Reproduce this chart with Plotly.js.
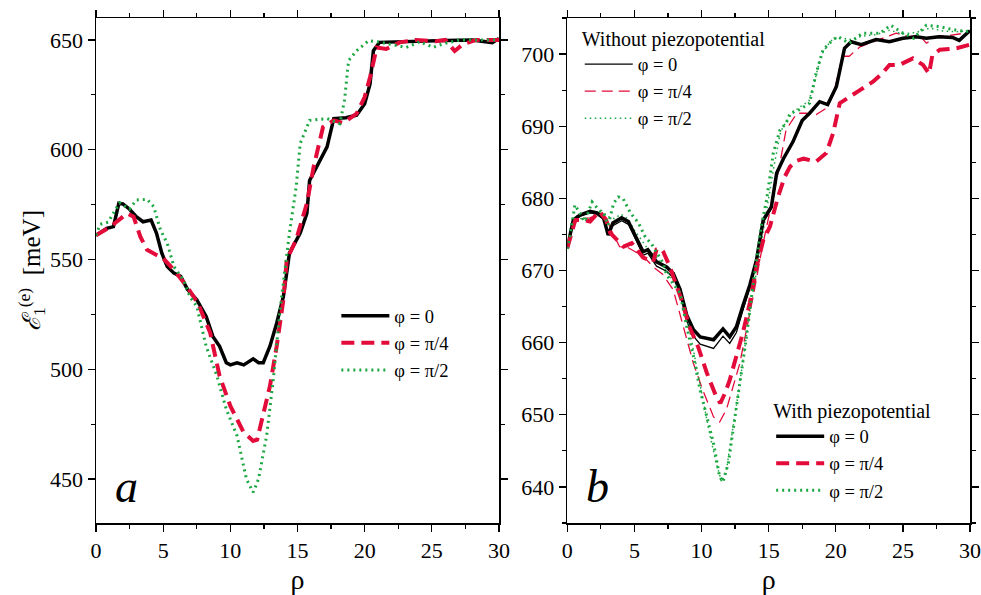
<!DOCTYPE html>
<html>
<head>
<meta charset="utf-8">
<script src="https://cdn.plot.ly/plotly-3.0.1.min.js"></script>
<style>html,body{margin:0;padding:0;background:#fff;}#chart{width:981px;height:595px;}</style>
</head>
<body>
<div id="chart"></div>
<script>
// ---------- Panel a ----------
const rhoA0 = [0, 0.8, 1.3, 1.7, 2.0, 2.5, 3.0, 3.5, 4.1, 4.5, 4.9, 5.3, 5.8, 6.3, 6.8, 7.5, 8.2, 8.7, 9.2, 9.7, 10.0, 10.5, 11.0, 11.7, 12.1, 12.45, 12.95, 13.45, 13.95, 14.4, 15.2, 15.7, 15.9, 16.4, 17.2, 17.7, 18.6, 19.4, 20.0, 20.4, 20.65, 21.1, 22.4, 24, 26, 28, 29.5, 30];
const eA0   = [561, 564.2, 565, 575.6, 575.3, 572.9, 569.5, 567.2, 568, 562, 552.9, 546.8, 543.8, 542.3, 536.5, 531.7, 524.1, 515, 510.5, 503, 502, 503, 502, 504.8, 503, 503, 510.5, 521, 533.2, 552.9, 562, 571, 586, 592.2, 601.3, 614.2, 614.6, 615.7, 621, 630, 645.1, 648.9, 649.2, 649.6, 649.8, 650, 648.8, 650.7];

const rhoA4 = [0, 1.1, 2.3, 2.8, 3.3, 3.8, 4.5, 5.0, 5.8, 6.75, 7.6, 8.5, 9.2, 10.0, 11.0, 11.7, 12.0, 12.45, 12.95, 13.45, 13.95, 14.2, 14.9, 15.7, 16.2, 16.9, 17.7, 18.4, 19.4, 20.0, 20.4, 20.9, 21.6, 22.6, 23.8, 25.3, 26.0, 26.7, 27.3, 28.3, 30];
const eA4   = [561, 565, 571, 569.5, 560.4, 554.4, 552.1, 550.6, 545.3, 537.8, 530, 516.6, 497, 483.3, 471.2, 467.4, 468, 480.3, 492.4, 510.5, 531.7, 549.9, 559, 575.6, 592.2, 610.3, 613.4, 612.2, 616.4, 624, 633, 646.6, 645.9, 648.9, 650, 649.4, 650, 645, 648, 650, 650];

const rhoA2 = [0, 0.3, 0.9, 1.75, 2.5, 3.0, 3.8, 4.3, 4.8, 5.3, 5.8, 6.5, 7.0, 7.5, 8.2, 9.0, 9.7, 10.5, 11.2, 11.7, 12.1, 12.7, 13.2, 13.7, 14.4, 14.9, 15.2, 15.9, 17.2, 18.15, 18.5, 18.8, 19.4, 20.3, 21.1, 22.0, 23.1, 24.1, 25.1, 25.8, 27.1, 30];
const eA2   = [561, 566, 567, 575.8, 573, 577.1, 577.4, 574, 563.5, 557.4, 546.8, 540.7, 533, 528.7, 510.5, 497, 481.8, 469.7, 450, 444, 450, 469.7, 495.4, 527, 562, 583.1, 602.8, 613.4, 614.2, 611.9, 622.5, 640.6, 645.1, 649.7, 649, 648, 646.6, 649.2, 646.6, 648.2, 650, 650];

// ---------- Panel b : without piezopotential ----------
const rhoB0n = [0, 0.45, 0.95, 1.7, 2.2, 2.7, 3.05, 3.4, 4.05, 4.55, 5.15, 5.65, 6.0, 6.65, 7.4, 7.9, 8.4, 8.9, 9.4, 9.9, 10.9, 11.6, 12.1, 12.6, 13.1, 13.6, 14.1, 14.6, 15.2, 15.6, 16.1, 16.8, 17.5, 18.05, 18.8, 19.4, 20.05, 20.65, 21.15, 21.9, 23.0, 24.0, 25.0, 26.0, 26.75, 27.7, 28.7, 29.2, 29.9, 30];
const eB0n   = [673.1, 676.8, 677.5, 678.0, 677.8, 677.1, 675.0, 676.2, 676.9, 676.4, 674.1, 672.1, 672.4, 670.6, 669.9, 669.0, 666.8, 663.0, 660.9, 659.8, 659.2, 660.9, 659.9, 661.4, 664.6, 667.6, 671.2, 676.7, 678.6, 683.5, 685.5, 687.8, 690.8, 691.8, 693.4, 693, 695.5, 700.8, 701.7, 701.3, 702, 701.7, 702.2, 702.4, 702.2, 702.4, 702.3, 701.9, 703.1, 703.2];

const rhoB4n = [0, 0.5, 1.1, 1.7, 2.4, 2.9, 3.3, 3.9, 4.5, 5.2, 5.7, 6.4, 7.1, 7.9, 8.6, 9.4, 10.1, 10.9, 11.35, 11.85, 12.35, 12.85, 13.35, 13.85, 14.5, 15.0, 15.8, 16.3, 17.1, 17.8, 18.55, 19.3, 19.9, 20.5, 21.0, 21.8, 22.8, 23.8, 24.5, 25.5, 26.2, 26.75, 27.5, 28.5, 30];
const eB4n   = [673.1, 676.5, 677.2, 677.3, 678.0, 677.2, 675.5, 673.3, 673.2, 672.5, 671.9, 670.5, 669.5, 667.3, 662.7, 657.1, 653.4, 649.7, 649, 650.7, 653.9, 657.1, 661.8, 666.4, 673, 677.5, 684.4, 689.5, 691.8, 691.8, 691.6, 692.5, 695, 699.7, 699.7, 701, 701.7, 702.4, 702.9, 702.4, 702.7, 701.5, 702.4, 702.6, 703];

const rhoB2n = [0, 0.3, 0.6, 1.0, 1.5, 2.0, 2.5, 3.0, 3.5, 4.0, 4.5, 5.0, 5.5, 6.0, 6.6, 7.1, 7.6, 8.4, 9.1, 9.6, 10.1, 10.6, 11.1, 11.5, 11.85, 12.25, 12.7, 13.2, 13.7, 14.2, 14.6, 15.0, 15.4, 15.9, 16.5, 17.2, 18.0, 18.4, 18.9, 19.6, 20.2, 21.0, 22.0, 23.0, 24.0, 25.0, 26.0, 27.0, 28.0, 29.0, 30];
const eB2n   = [673, 676.5, 677.6, 677.2, 676.9, 677.6, 678.4, 677.5, 677.2, 677.8, 677.2, 675.6, 674.3, 673.0, 672.0, 670.6, 669.4, 666.9, 661.8, 657.1, 652.1, 647.4, 643.3, 640.7, 642.3, 647, 652.5, 659, 665.5, 671, 675.5, 680, 684.5, 689.3, 691.2, 692.5, 693.5, 696, 699.8, 701.8, 702.4, 702, 702.5, 702.7, 703.3, 702.8, 703, 703.6, 703.2, 703.1, 703.2];

// ---------- Panel b : with piezopotential ----------
const rhoB0w = [0, 0.45, 0.95, 1.7, 2.2, 2.7, 3.05, 3.4, 4.05, 4.55, 5.15, 5.65, 6.0, 6.65, 7.4, 7.9, 8.4, 8.9, 9.4, 9.9, 10.9, 11.6, 12.1, 12.6, 13.1, 13.6, 14.1, 14.6, 15.2, 15.6, 16.1, 16.8, 17.5, 18.05, 18.8, 19.4, 20.05, 20.65, 21.15, 21.9, 23.0, 24.0, 25.0, 26.0, 26.75, 27.7, 28.7, 29.2, 29.9, 30];
const eB0w   = [673.1, 677, 677.7, 678.2, 678, 677.3, 674.9, 676.6, 677.3, 676.8, 674.5, 672.6, 672.9, 671.2, 670.5, 669.6, 667.4, 663.8, 661.8, 660.8, 660.4, 661.9, 660.8, 662.2, 665.2, 668, 671.5, 677, 678.8, 683.5, 685.5, 687.8, 690.8, 691.8, 693.4, 693, 695.5, 700.8, 701.7, 701.3, 702, 701.7, 702.2, 702.4, 702.2, 702.4, 702.3, 701.9, 703.1, 703.2];

const rhoB4w = [0, 0.35, 0.6, 1.2, 1.7, 2.4, 2.9, 3.2, 3.45, 4.2, 4.8, 5.2, 5.65, 6.4, 6.65, 7.0, 7.15, 7.65, 8.0, 8.5, 9.1, 9.75, 10.4, 11.1, 11.4, 11.75, 12.1, 12.6, 13.1, 13.6, 14.1, 14.6, 15.1, 15.7, 16.2, 16.6, 17.1, 17.6, 18.55, 19.3, 19.8, 20.3, 21.0, 21.8, 22.8, 23.5, 24.0, 24.75, 25.75, 26.5, 26.95, 27.2, 27.75, 29.0, 30];
const eB4w   = [673.1, 675.6, 677, 677, 676.8, 678.2, 677, 675.2, 674.7, 673.3, 673.8, 672.9, 671.8, 671.2, 672.9, 673, 672.6, 670.5, 668.7, 666, 662.2, 659.4, 655.8, 652.5, 651.6, 653, 654.8, 658.1, 661.5, 665.5, 670.5, 674.2, 676.1, 680.2, 683, 684.4, 685.2, 685.5, 685.1, 686.3, 689, 693.2, 694.1, 695, 696.2, 697.4, 698.5, 698.5, 699.4, 698.5, 697.3, 699.9, 700.6, 700.8, 701.3];

const rhoB2w = [0, 0.2, 0.57, 0.95, 1.3, 1.85, 2.45, 2.7, 3.05, 3.45, 3.8, 4.15, 4.7, 5.3, 5.8, 6.3, 6.65, 7.15, 7.4, 7.9, 8.4, 8.9, 9.4, 9.9, 10.4, 10.9, 11.35, 11.6, 12.0, 12.25, 12.6, 13.0, 13.35, 13.7, 14.1, 14.45, 14.85, 15.1, 15.35, 15.85, 16.3, 16.6, 17.3, 18.05, 18.55, 19.05, 19.8, 20.15, 21.0, 22.0, 23.3, 24.1, 25.0, 25.8, 26.75, 27.75, 28.7, 29.7, 30];
const eB2w   = [673, 674.7, 679.1, 678, 676.8, 679.5, 678.2, 678, 676.3, 679.3, 680.2, 680, 678, 676.6, 674.7, 673.6, 672.6, 671, 669.4, 668.2, 666.9, 662.2, 658.1, 653.4, 649.7, 646, 641.4, 640.7, 643.3, 646.5, 651.1, 655.8, 660.8, 666, 671.5, 676.1, 679.8, 683, 686.3, 689.5, 690.4, 691.8, 692.3, 693.2, 697.4, 700.6, 702, 702.4, 701.5, 702.9, 702.9, 704, 702.9, 702.2, 704, 703.8, 703.4, 703.1, 703.3];

const legendLabels = ['φ = 0', 'φ = π/4', 'φ = π/2'];
const titleWithout = 'Without piezopotential';
const titleWith = 'With piezopotential';

const BLACK = '#000000', RED = '#e30b3a', GREEN = '#1aa640';
const FONT = "'Liberation Serif', 'Times New Roman', Times, serif";

const traces = [
  // panel a
  {x: rhoA0, y: eA0, xaxis: 'x', yaxis: 'y', mode: 'lines', name: legendLabels[0], legend: 'legend',
   line: {color: BLACK, width: 3.5}},
  {x: rhoA4, y: eA4, xaxis: 'x', yaxis: 'y', mode: 'lines', name: legendLabels[1], legend: 'legend',
   line: {color: RED, width: 4, dash: '13px,7px'}},
  {x: rhoA2, y: eA2, xaxis: 'x', yaxis: 'y', mode: 'lines', name: legendLabels[2], legend: 'legend',
   line: {color: GREEN, width: 3, dash: '2px,4px'}},
  // panel b, without
  {x: rhoB0n, y: eB0n, xaxis: 'x2', yaxis: 'y2', mode: 'lines', name: legendLabels[0], legend: 'legend2',
   line: {color: BLACK, width: 1.3}},
  {x: rhoB4n, y: eB4n, xaxis: 'x2', yaxis: 'y2', mode: 'lines', name: legendLabels[1], legend: 'legend2',
   line: {color: RED, width: 1.3, dash: '11px,6px'}},
  {x: rhoB2n, y: eB2n, xaxis: 'x2', yaxis: 'y2', mode: 'lines', name: legendLabels[2], legend: 'legend2',
   line: {color: GREEN, width: 1.5, dash: '1.5px,3.5px'}},
  // panel b, with
  {x: rhoB0w, y: eB0w, xaxis: 'x2', yaxis: 'y2', mode: 'lines', name: legendLabels[0], legend: 'legend3',
   line: {color: BLACK, width: 3.5}},
  {x: rhoB4w, y: eB4w, xaxis: 'x2', yaxis: 'y2', mode: 'lines', name: legendLabels[1], legend: 'legend3',
   line: {color: RED, width: 4, dash: '13px,7px'}},
  {x: rhoB2w, y: eB2w, xaxis: 'x2', yaxis: 'y2', mode: 'lines', name: legendLabels[2], legend: 'legend3',
   line: {color: GREEN, width: 3, dash: '2px,4px'}}
];

const axisCommon = {
  showline: true, linecolor: '#000', linewidth: 1.5, mirror: 'allticks',
  ticks: 'outside', ticklen: 7, tickwidth: 1.3, tickcolor: '#000',
  showgrid: false, zeroline: false,
  tickfont: {family: FONT, size: 22, color: '#000'},
  ticklabeloverflow: 'allow',
  automargin: false
};

const legendCommon = {
  font: {family: FONT, size: 18.5, color: '#000'},
  bgcolor: 'rgba(0,0,0,0)', borderwidth: 0,
  itemwidth: 48, tracegroupgap: 0, xanchor: 'left', yanchor: 'top',
  itemclick: false, itemdoubleclick: false
};

const layout = {
  width: 981, height: 595,
  margin: {l: 96, r: 11, t: 18, b: 72, pad: 0},
  paper_bgcolor: '#fff', plot_bgcolor: '#fff',
  font: {family: FONT, size: 20, color: '#000'},
  showlegend: true,
  xaxis: Object.assign({}, axisCommon, {
    domain: [0, 0.4611], anchor: 'y', range: [0, 30], tick0: 0, dtick: 5,
    minor: {dtick: 2.5, ticks: 'outside', ticklen: 4, tickcolor: '#000', tickwidth: 1.2},
    title: {text: 'ρ', font: {family: FONT, size: 28}, standoff: 12}
  }),
  yaxis: Object.assign({}, axisCommon, {
    domain: [0, 1], anchor: 'x', range: [430, 660], tick0: 0, dtick: 50,
    minor: {dtick: 25, ticks: 'outside', ticklen: 4, tickcolor: '#000', tickwidth: 1.2},
    title: {text: '<i>ℰ</i><sub>1</sub><sup>(e)</sup>  [meV]', font: {family: FONT, size: 25}, standoff: 2}
  }),
  xaxis2: Object.assign({}, axisCommon, {
    domain: [0.5392, 1], anchor: 'y2', range: [0, 30], tick0: 0, dtick: 5,
    minor: {dtick: 2.5, ticks: 'outside', ticklen: 4, tickcolor: '#000', tickwidth: 1.2},
    title: {text: 'ρ', font: {family: FONT, size: 28}, standoff: 12}
  }),
  yaxis2: Object.assign({}, axisCommon, {
    domain: [0, 1], anchor: 'x2', range: [635, 705], tick0: 0, dtick: 10,
    minor: {dtick: 5, ticks: 'outside', ticklen: 4, tickcolor: '#000', tickwidth: 1.2}
  }),
  legend: Object.assign({}, legendCommon, {x: 0.275, y: 0.447}),
  legend2: Object.assign({}, legendCommon, {x: 0.5535, y: 0.997,
    title: {text: titleWithout, font: {family: FONT, size: 20}, side: 'top'}}),
  legend3: Object.assign({}, legendCommon, {x: 0.7725, y: 0.26,
    title: {text: titleWith, font: {family: FONT, size: 20}, side: 'top'}}),
  annotations: [
    {text: '<i>a</i>', xref: 'paper', yref: 'paper', x: (126 - 96) / 874, y: (523 - 514) / 505,
     xanchor: 'center', yanchor: 'bottom', showarrow: false, font: {family: FONT, size: 46, color: '#000'}},
    {text: '<i>b</i>', xref: 'paper', yref: 'paper', x: (597 - 96) / 874, y: (523 - 514) / 505,
     xanchor: 'center', yanchor: 'bottom', showarrow: false, font: {family: FONT, size: 46, color: '#000'}}
  ]
};

Plotly.newPlot('chart', traces, layout, {staticPlot: true, displayModeBar: false});
</script>
</body>
</html>
